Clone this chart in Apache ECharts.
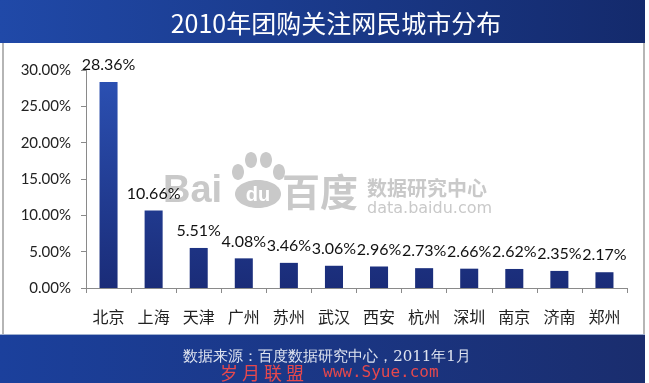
<!DOCTYPE html>
<html>
<head>
<meta charset="utf-8">
<script src="https://cdn.jsdelivr.net/npm/echarts@6/dist/echarts.min.js"></script>
<style>
html,body{margin:0;padding:0;background:#fff;}
#chart{width:649px;height:383px;}
</style>
</head>
<body>
<div id="chart"></div>
<script>
const titleText = '2010年团购关注网民城市分布';
const sourceText = '数据来源：百度数据研究中心，2011年1月';
const cities = ['北京','上海','天津','广州','苏州','武汉','西安','杭州','深圳','南京','济南','郑州'];
const shares = [28.36,10.66,5.51,4.08,3.46,3.06,2.96,2.73,2.66,2.62,2.35,2.17];
const yMin = 0, yMax = 30, yStep = 5;

const chart = echarts.init(document.getElementById('chart'), null, {renderer:'canvas'});
const cjk = '"Noto Sans CJK SC", sans-serif';
const latin = 'Lato, "Open Sans", sans-serif';
const wmColor = '#c9c9c9';

chart.setOption({
  backgroundColor:'#ffffff',
  animation:false,
  grid:{left:86, right:22, top:70, bottom:95, containLabel:false},
  xAxis:{
    type:'category',
    data:cities,
    axisLine:{lineStyle:{color:'#8a8a8a', width:1}},
    axisTick:{show:true, length:5, lineStyle:{color:'#8a8a8a'}},
    axisLabel:{color:'#222', fontSize:16, fontFamily:cjk, margin:21}
  },
  yAxis:{
    type:'value', min:yMin, max:yMax, interval:yStep,
    splitLine:{show:false},
    axisLine:{show:true, lineStyle:{color:'#8a8a8a', width:1}},
    axisTick:{show:true, length:5, lineStyle:{color:'#8a8a8a'}},
    axisLabel:{color:'#222', fontSize:15, fontFamily:latin, margin:15,
      formatter:function(v){return v.toFixed(2)+'%';}}
  },
  series:[{
    type:'bar',
    data:shares,
    barWidth:'40%',
    z:5,
    itemStyle:{color:new echarts.graphic.LinearGradient(0,80,0,288,[
      {offset:0,color:'#2b50b2'},{offset:1,color:'#1a2c78'}], true)},
    label:{show:true, position:'top', distance:9, color:'#111', fontSize:16, fontFamily:latin,
      formatter:function(p){return p.value.toFixed(2)+'%';}}
  }],
  graphic:[
    {type:'rect', z:0, shape:{x:0,y:0,width:645,height:43},
      style:{fill:new echarts.graphic.LinearGradient(0,0,1,0,[{offset:0,color:'#2049a8'},{offset:1,color:'#142a6c'}])}},
    {type:'text', z:1, x:336, y:23, style:{text:titleText, fill:'#ffffff', font:'25px '+cjk, align:'center', verticalAlign:'middle'}},
    {type:'rect', z:0, shape:{x:2,y:43,width:2,height:292}, style:{fill:'#b5b5b5'}},
    {type:'rect', z:0, shape:{x:643,y:43,width:2,height:292}, style:{fill:'#b5b5b5'}},
    {type:'rect', z:0, shape:{x:0,y:335,width:645,height:48},
      style:{fill:new echarts.graphic.LinearGradient(0,0,1,0,[{offset:0,color:'#1b409c'},{offset:1,color:'#1a2d6e'}])}},
    {type:'rect', z:0, shape:{x:0,y:334,width:645,height:1}, style:{fill:'#9fb0d0'}},
    {type:'text', z:1, x:327, y:357, style:{text:sourceText, fill:'#dfe4f0', font:'15px "DejaVu Serif", serif', align:'center', verticalAlign:'middle'}},
    {type:'text', z:1, x:220, y:373, style:{text:'岁 月 联 盟', fill:'#e5484d', font:'18px '+cjk, align:'left', verticalAlign:'middle'}},
    {type:'text', z:1, x:323, y:373, style:{text:'www.Syue.com', fill:'#e5484d', font:'16px "DejaVu Sans Mono", monospace', align:'left', verticalAlign:'middle'}},
    // Baidu watermark
    {type:'text', z:1, x:163, y:192, style:{text:'Bai', fill:wmColor, font:'bold 38px "Liberation Sans", sans-serif', align:'left', verticalAlign:'middle'}},
    {type:'ellipse', z:1, shape:{cx:238, cy:172, rx:6, ry:8}, style:{fill:wmColor}},
    {type:'ellipse', z:1, shape:{cx:251, cy:160, rx:6, ry:8}, style:{fill:wmColor}},
    {type:'ellipse', z:1, shape:{cx:266, cy:160, rx:6, ry:8}, style:{fill:wmColor}},
    {type:'ellipse', z:1, shape:{cx:279, cy:172, rx:6, ry:8}, style:{fill:wmColor}},
    {type:'ellipse', z:1, shape:{cx:258, cy:194, rx:23, ry:14}, style:{fill:wmColor}},
    {type:'text', z:1, x:258, y:195, style:{text:'du', fill:'#ffffff', font:'bold 20px "Liberation Sans", sans-serif', align:'center', verticalAlign:'middle'}},
    {type:'text', z:1, x:282, y:192, style:{text:'百度', fill:wmColor, font:'bold 38px '+cjk, align:'left', verticalAlign:'middle'}},
    {type:'text', z:1, x:367, y:188, style:{text:'数据研究中心', fill:wmColor, font:'bold 20px '+cjk, align:'left', verticalAlign:'middle'}},
    {type:'text', z:1, x:367, y:209, style:{text:'data.baidu.com', fill:wmColor, font:'16px "DejaVu Sans", sans-serif', align:'left', verticalAlign:'middle'}}
  ]
});
</script>
</body>
</html>
